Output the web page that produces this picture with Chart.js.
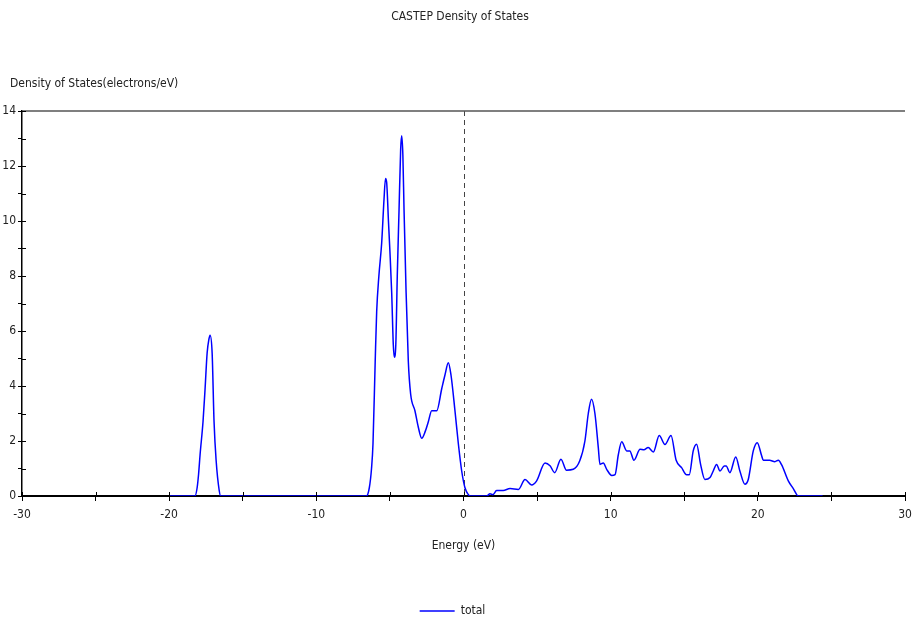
<!DOCTYPE html>
<html>
<head>
<meta charset="utf-8">
<script src="https://cdn.jsdelivr.net/npm/chart.js@4"></script>
<style>
  html, body { margin: 0; padding: 0; background: #fff; }
  #wrap { width: 912px; height: 623px; }
</style>
</head>
<body>
<div id="wrap"><canvas id="dosChart"></canvas></div>
<script>
// energy (eV) and total density of states
const energy = [
  -20, -18.25, -18.1, -18.0, -17.9, -17.7, -17.56, -17.42, -17.3, -17.22, -17.08, -16.95, -16.81, -16.6, -16.5,
  -6.6, -6.4, -6.25, -6.15, -6.0, -5.9, -5.75, -5.56, -5.4, -5.3, -5.22, -5.1, -5.0, -4.88, -4.77, -4.7, -4.6,
  -4.5, -4.38, -4.27, -4.2, -4.12, -4.04, -3.9, -3.75, -3.59, -3.3, -3.07, -2.84, -2.6, -2.39, -2.16, -1.82,
  -1.48, -1.26, -1.03, -0.85, -0.58, -0.35, -0.12, 0.1, 0.33, 0.45,
  1.58, 1.8, 2.0, 2.25, 2.7, 3.16, 3.73, 4.18, 4.63, 4.97, 5.54, 5.88, 6.2, 6.62, 7.0, 7.46, 7.9, 8.25, 8.48,
  8.7, 8.93, 9.16, 9.27, 9.5, 9.73, 10.07, 10.3, 10.52, 10.75, 11.09, 11.3, 11.58, 12.0, 12.26, 12.55, 12.9,
  13.3, 13.69, 14.1, 14.45, 14.82, 15.16, 15.34, 15.61, 15.84, 16.11, 16.4, 16.75, 16.97, 17.2, 17.43, 17.72,
  17.85, 18.1, 18.5, 18.78, 19.12, 19.35, 19.69, 19.96, 20.26, 20.37, 20.8, 21.16, 21.39, 21.62, 22.07, 22.4,
  22.75, 24.4
];
const dos = [
  0, 0, 0.3, 0.8, 1.5, 2.7, 3.9, 5.2, 5.7, 5.85, 5.2, 2.7, 1.3, 0.2, 0,
  0, 0.3, 1.0, 1.9, 4.9, 6.7, 8.0, 9.2, 10.8, 11.55, 11.4, 10.0, 8.9, 7.4, 5.5, 5.05, 5.5,
  8.0, 10.4, 12.6, 13.1, 12.4, 10.4, 7.4, 4.9, 3.7, 3.1, 2.5, 2.1, 2.35, 2.7, 3.1, 3.1,
  3.9, 4.4, 4.85, 4.4, 3.1, 1.9, 0.9, 0.3, 0.05, 0,
  0, 0.08, 0.05, 0.2, 0.2, 0.27, 0.24, 0.6, 0.4, 0.55, 1.2, 1.1, 0.85, 1.34, 0.94, 0.97, 1.28, 2.0, 3.0,
  3.52, 3.0, 1.76, 1.15, 1.2, 0.97, 0.75, 0.78, 1.5, 1.97, 1.64, 1.64, 1.3, 1.7, 1.68, 1.76, 1.6,
  2.2, 1.87, 2.2, 1.3, 1.03, 0.77, 0.77, 1.64, 1.88, 1.15, 0.6, 0.67, 0.91, 1.15, 0.91, 1.09,
  1.09, 0.85, 1.42, 0.91, 0.43, 0.6, 1.64, 1.94, 1.46, 1.3, 1.3, 1.25, 1.3, 1.13, 0.55, 0.28,
  0, 0
];
const seriesName = 'total';
const chartTitle = 'CASTEP Density of States';
const yTitle = 'Density of States(electrons/eV)';
const xTitle = 'Energy (eV)';
const fermiLevel = 0;

const points = energy.map((e, i) => ({ x: e, y: dos[i] }));
const FONT = '"Liberation Sans Narrow", "DejaVu Sans Condensed", "Liberation Sans", sans-serif';

// titles, top frame line, fermi level and inner tick stubs
const decorations = {
  id: 'decorations',
  beforeDatasetsDraw(chart) {
    const { ctx, chartArea: a, scales: { x } } = chart;
    ctx.save();
    const fx = Math.round(x.getPixelForValue(fermiLevel)) + 0.5;
    ctx.strokeStyle = '#444';
    ctx.lineWidth = 1;
    ctx.setLineDash([5, 4]);
    ctx.beginPath();
    ctx.moveTo(fx, a.top);
    ctx.lineTo(fx, a.bottom);
    ctx.stroke();
    ctx.restore();
  },
  afterDraw(chart) {
    const { ctx, chartArea: a, scales: { x, y } } = chart;
    ctx.save();
    // top frame
    ctx.strokeStyle = '#555';
    ctx.lineWidth = 1.5;
    ctx.beginPath();
    ctx.moveTo(a.left, a.top);
    ctx.lineTo(a.right, a.top);
    ctx.stroke();
    // inner halves of the tick marks
    ctx.strokeStyle = '#000';
    ctx.lineWidth = 1;
    x.ticks.forEach(t => {
      const px = Math.round(x.getPixelForValue(t.value)) + 0.5;
      ctx.beginPath();
      ctx.moveTo(px, a.bottom);
      ctx.lineTo(px, a.bottom - 4);
      ctx.stroke();
    });
    y.ticks.forEach(t => {
      const py = Math.round(y.getPixelForValue(t.value)) + 0.5;
      ctx.beginPath();
      ctx.moveTo(a.left, py);
      ctx.lineTo(a.left + 4, py);
      ctx.stroke();
    });
    // texts
    ctx.fillStyle = '#222';
    ctx.font = '12px ' + FONT;
    ctx.textBaseline = 'middle';
    ctx.textAlign = 'center';
    ctx.fillText(chartTitle, 460, 17);
    ctx.fillText(xTitle, (a.left + a.right) / 2, 546);
    ctx.textAlign = 'left';
    ctx.fillText(yTitle, 10, 84);
    ctx.restore();
  }
};

new Chart(document.getElementById('dosChart'), {
  type: 'line',
  data: {
    datasets: [{
      label: seriesName,
      data: points,
      borderColor: '#0000ff',
      backgroundColor: '#0000ff',
      borderWidth: 1.5,
      pointRadius: 0,
      pointStyle: 'line',
      cubicInterpolationMode: 'monotone',
      fill: false
    }]
  },
  options: {
    responsive: true,
    maintainAspectRatio: false,
    animation: false,
    layout: { padding: { top: 111, right: 7, left: 0, bottom: -4 } },
    plugins: {
      title: { display: false },
      tooltip: { enabled: false },
      legend: {
        display: true,
        position: 'bottom',
        labels: {
          usePointStyle: true,
          pointStyleWidth: 35,
          padding: 10,
          color: '#222',
          font: { size: 12, family: FONT }
        }
      }
    },
    scales: {
      x: {
        type: 'linear',
        min: -30,
        max: 30,
        afterFit(scale) { scale.height = 99; scale.paddingRight = 0; scale.paddingLeft = 0; },
        border: { color: '#000', width: 2 },
        grid: { drawOnChartArea: false, color: '#000', tickLength: 5 },
        ticks: {
          stepSize: 5,
          maxRotation: 0,
          color: '#222',
          padding: 7,
          font: { size: 12, family: FONT },
          callback: v => (v % 10 === 0 ? String(v) : '')
        }
      },
      y: {
        min: 0,
        max: 14,
        afterFit(scale) { scale.width = 22; },
        border: { color: '#000', width: 1.5 },
        grid: { drawOnChartArea: false, color: '#000', tickLength: 4 },
        ticks: {
          stepSize: 1,
          autoSkip: false,
          color: '#222',
          padding: 2,
          font: { size: 12, family: FONT },
          callback: v => (v % 2 === 0 ? String(v) : '')
        }
      }
    }
  },
  plugins: [decorations]
});
</script>
</body>
</html>
